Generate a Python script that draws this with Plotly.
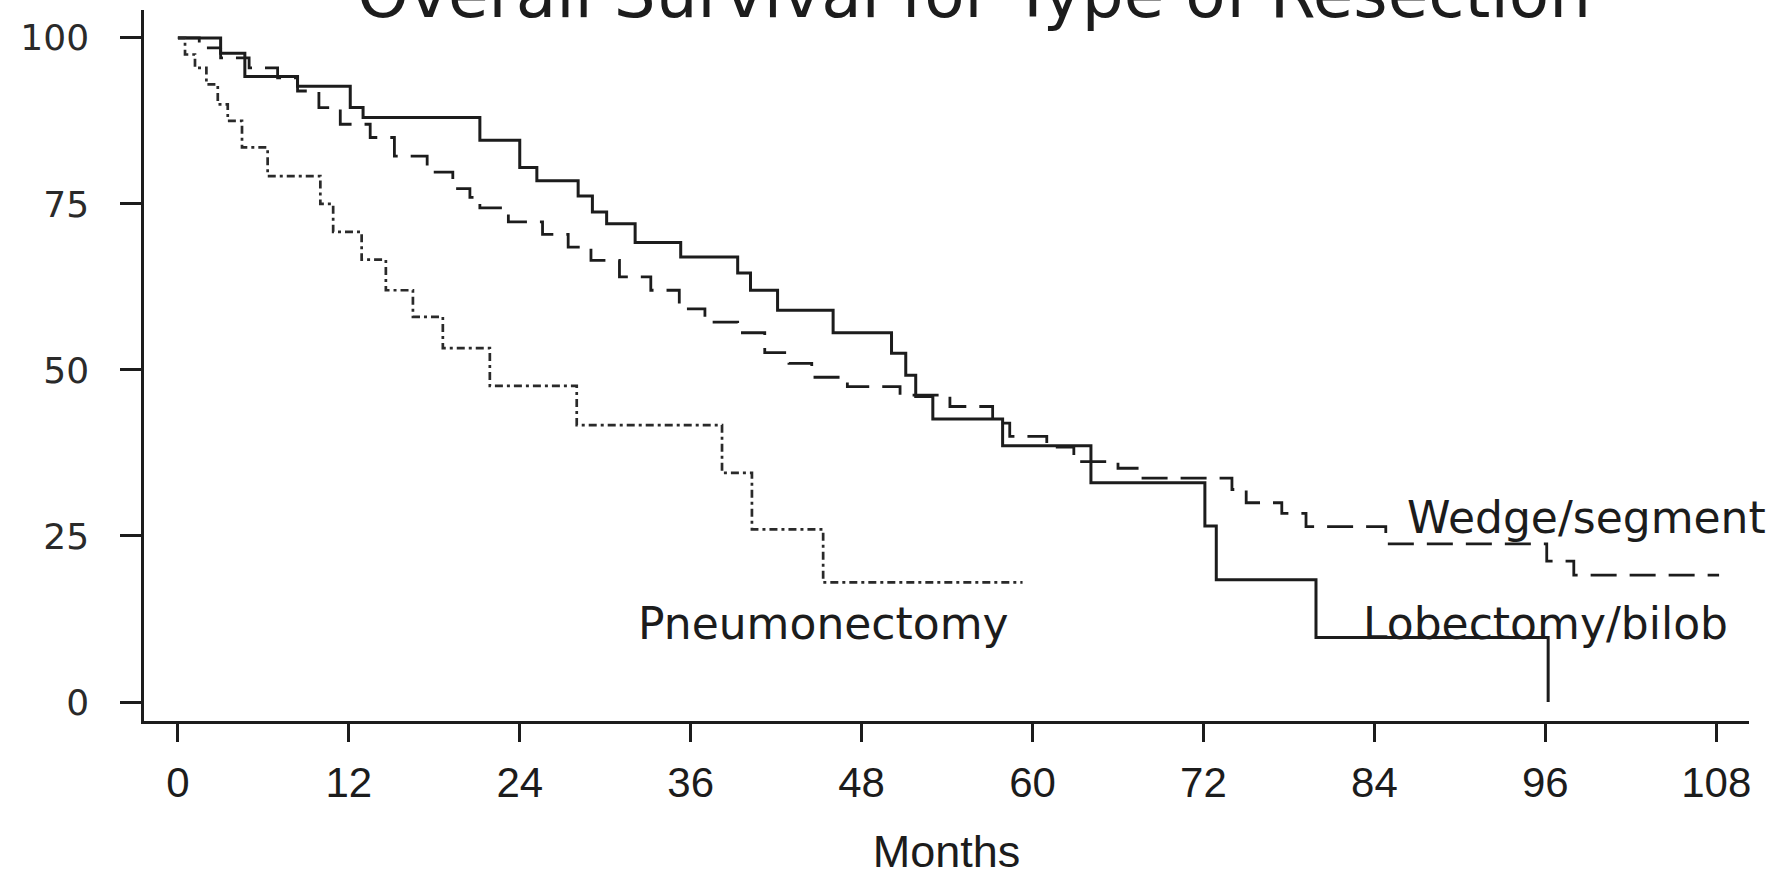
import plotly.graph_objects as go

# ---- data (months, survival %) ----
lob_t = [0, 3, 4.7, 8.4, 12.1, 13, 21.2, 24, 25.2, 28.1, 29.1, 30.1, 32.1, 35.3,
         39.3, 40.2, 42.1, 46, 50.1, 51.1, 51.8, 53, 57.9, 64.1, 72.1, 72.9, 79.9, 96.2]
lob_s = [100, 97.7, 94.2, 92.7, 89.5, 88, 84.6, 80.5, 78.5, 76.2, 73.8, 72, 69.2, 67,
         64.6, 62, 59, 55.6, 52.5, 49.2, 46, 42.6, 38.6, 33, 26.5, 18.4, 9.7, 0]

wedge_t = [0, 1.5, 3, 5, 7, 8.4, 9.9, 11.4, 13.5, 15.2, 17.5, 19.3, 20.5, 21.2, 23.2,
           25.6, 27.4, 29, 31, 33.2, 35.2, 37, 39.3, 41.2, 42.9, 44.5, 47, 50.7, 54.2,
           57.2, 58.4, 61, 62.9, 66, 67.5, 74, 75, 77.5, 79.2, 84.8, 96.1, 98, 108.2]
wedge_s = [100, 98.5, 97, 95.5, 94, 92, 89.5, 87, 85, 82.2, 79.8, 77.3, 76, 74.4, 72.3,
           70.4, 68.5, 66.5, 64, 62, 59.2, 57.2, 55.6, 52.6, 51, 48.9, 47.5, 46.2, 44.5,
           42, 40, 38.4, 36.2, 35.2, 33.7, 32, 30, 28.4, 26.4, 23.8, 21.2, 19.1, 19.1]

pneu_t = [0, 0.5, 1.2, 2, 2.8, 3.5, 4.5, 6.3, 10.0, 10.9, 12.9, 14.6, 16.5, 18.6,
          21.9, 28.0, 38.2, 40.3, 45.3, 59.3]
pneu_s = [100, 97.5, 95.5, 93, 90, 87.5, 83.5, 79.2, 75, 70.8, 66.6, 62, 58, 53.3,
          47.6, 41.7, 34.5, 26, 18, 18]

x_ticks = [0, 12, 24, 36, 48, 60, 72, 84, 96, 108]
y_ticks = [0, 25, 50, 75, 100]

curve_names = ["Lobectomy/bilob", "Wedge/segment", "Pneumonectomy"]

title_text = "Overall Survival for Type of Resection"
x_title = "Months"

INK = "#1c1c1c"
Y_RANGE = [-2.86, 104.2]

fig = go.Figure()
fig.add_trace(go.Scatter(x=lob_t, y=lob_s, mode="lines", name=curve_names[0],
                         line=dict(shape="hv", color=INK, width=3)))
fig.add_trace(go.Scatter(x=wedge_t, y=wedge_s, mode="lines", name=curve_names[1],
                         line=dict(shape="hv", color=INK, width=2.8, dash="26px,13px")))
fig.add_trace(go.Scatter(x=pneu_t, y=pneu_s, mode="lines", name=curve_names[2],
                         line=dict(shape="hv", color="#2a2a2a", width=2.7, dash="8px,4px,3px,4px")))

label_font = dict(family="DejaVu Sans, Liberation Sans, Arial", size=44, color=INK)
# Lobectomy and Pneumonectomy labels in data coordinates
fig.add_annotation(x=109.0, y=11.8, xref="x", yref="y", text=curve_names[0],
                   showarrow=False, xanchor="right", yanchor="middle", font=label_font)
fig.add_annotation(x=58.5, y=11.8, xref="x", yref="y", text=curve_names[2],
                   showarrow=False, xanchor="right", yanchor="middle", font=label_font)
# Wedge/segment label sits beyond the x range, so place it in paper coordinates
fig.add_annotation(x=1.012, y=(27.8 - Y_RANGE[0]) / (Y_RANGE[1] - Y_RANGE[0]),
                   xref="paper", yref="paper",
                   text=curve_names[1], showarrow=False, xanchor="right", yanchor="middle",
                   font=label_font)

fig.add_annotation(x=0.517, y=1.022, xref="paper", yref="paper", text=title_text,
                   showarrow=False, xanchor="center", yanchor="middle",
                   font=dict(family="DejaVu Sans, Liberation Sans, Arial", size=66, color=INK))

fig.update_layout(
    width=1775, height=877, autosize=False,
    margin=dict(l=144, r=26, t=10, b=156, autoexpand=False),
    paper_bgcolor="white", plot_bgcolor="white",
    showlegend=False,
)

fig.update_xaxes(
    range=[-2.38, 110.3], tickvals=x_ticks, ticktext=[str(v) for v in x_ticks],
    ticks="outside", ticklen=18, tickwidth=2.5, tickcolor=INK,
    showline=True, linewidth=2.5, linecolor=INK,
    showgrid=False, zeroline=False, automargin=False,
    tickfont=dict(family="Liberation Sans, Arial", size=42, color=INK),
    ticklabelstandoff=5,
    title=dict(text=x_title, font=dict(family="Liberation Sans, Arial", size=45, color=INK),
               standoff=40),
)
fig.update_yaxes(
    range=Y_RANGE, tickvals=y_ticks, ticktext=[str(v) for v in y_ticks],
    ticks="outside", ticklen=21, tickwidth=2.5, tickcolor=INK,
    showline=True, linewidth=2.5, linecolor=INK,
    showgrid=False, zeroline=False, automargin=False,
    tickfont=dict(family="DejaVu Sans, Liberation Sans, Arial", size=36, color="#2a2a2a"),
    ticklabelstandoff=24,
)

fig.write_html("out.html")
